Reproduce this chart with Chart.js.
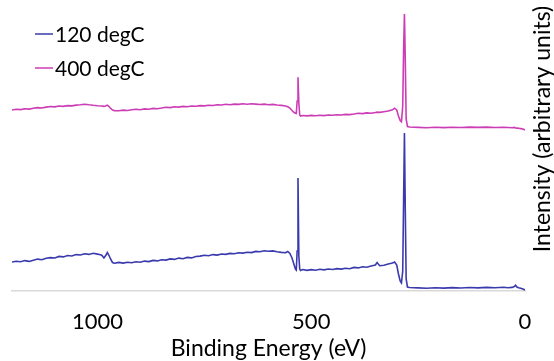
<!DOCTYPE html>
<html><head><meta charset="utf-8">
<script src="https://cdn.jsdelivr.net/npm/chart.js@4/dist/chart.umd.min.js"></script>
<style>html,body{margin:0;padding:0;background:#fff;}</style>
</head><body>
<canvas id="c" width="554" height="361"></canvas>
<script>
// Binding energy grid (eV)
const bindingEnergy = [1200,1190,1180,1170,1160,1150,1140,1130,1120,1110,1100,1090,1080,1070,1060,1050,1040,1030,1020,1010,1000,
990,985,980,977,973,970,965,960,
950,940,930,920,910,900,890,880,870,860,850,840,830,820,810,800,790,780,770,760,750,740,730,720,710,700,690,680,670,660,650,640,630,620,610,600,590,580,570,560,
555,550,545,540,537,535,533,531,529,527,525,520,
510,500,490,480,470,460,450,440,430,420,410,400,390,380,370,360,350,346,340,330,320,310,305,300,296,292,289,286,284,282,280,278,275,270,
250,230,210,190,170,150,130,110,90,70,50,40,30,25,22,19,15,10,5,0];

// Intensity (arbitrary units), 120 degC
const intensity120 = [29.0,29.8,29.2,30.4,29.6,30.8,31.9,31.2,32.8,33.4,33.0,34.6,34.1,35.5,35.0,36.4,36.0,37.3,36.6,37.8,36.9,
35.8,33.0,36.0,38.5,35.5,32.5,28.5,27.8,
28.6,27.9,28.8,28.2,29.3,28.7,29.9,29.4,30.6,30.1,31.3,30.9,32.1,31.6,32.9,32.3,33.6,33.1,34.5,34.9,35.8,35.2,36.4,35.9,37.0,36.6,37.6,37.2,38.3,37.9,38.8,38.4,39.6,39.2,40.3,39.7,40.1,39.2,38.6,38.2,
39.5,37.5,33.0,26.0,22.0,21.0,40.0,113.0,35.0,22.0,20.5,21.5,
20.6,21.4,20.8,21.7,21.1,22.0,21.5,22.4,21.9,22.8,22.3,23.6,23.1,24.3,23.8,25.0,26.0,28.5,25.3,25.8,26.9,28.0,29.0,26.0,17.0,10.0,8.0,20.0,90.0,158.0,80.0,12.0,4.0,3.5,
3.1,2.7,3.3,2.9,3.4,3.0,3.5,3.1,3.6,3.2,3.7,3.3,3.6,4.5,5.8,4.0,3.2,2.8,2.0,1.0];

// Intensity (arbitrary units), 400 degC
const intensity400 = [181.0,181.8,181.4,182.3,181.9,182.8,183.4,183.0,183.9,184.5,184.1,185.0,184.6,185.4,185.1,185.9,186.3,186.8,186.2,185.7,185.3,
185.0,184.6,185.2,185.8,184.5,183.0,181.0,180.4,
180.3,180.9,180.5,181.2,181.7,181.3,182.1,181.8,182.6,182.3,183.0,183.8,183.4,184.2,183.9,184.6,184.3,185.0,184.8,185.4,185.1,185.8,185.5,186.2,186.0,186.7,186.3,186.9,186.6,187.2,186.8,187.3,186.9,186.5,186.9,186.2,186.6,186.0,185.6,185.0,
184.3,183.0,180.5,178.5,177.8,177.5,190.0,213.7,188.0,176.0,175.0,175.5,
175.1,175.6,175.2,175.8,175.4,176.0,175.7,176.3,176.0,176.6,176.4,177.0,177.8,177.4,178.1,177.8,178.5,178.9,178.6,179.3,180.0,181.2,182.8,181.0,175.0,170.5,169.3,185.0,240.0,277.0,230.0,172.0,164.5,164.0,
163.6,163.3,163.7,163.4,163.8,163.5,163.9,163.6,163.9,163.5,163.8,163.5,163.2,163.6,163.0,162.9,162.7,162.4,162.0,161.0];

const seriesLabels = ['120 degC', '400 degC'];
const xTickValues = [1000, 500, 0];
const xTitle = 'Binding Energy (eV)';
const yTitle = 'Intensity (arbitrary units)';

const FONT = 'Lato';
const toPoints = vals => bindingEnergy.map((e, i) => ({x: e, y: vals[i]}));

const legendPlugin = {
  id: 'insideLegend',
  afterDraw(chart) {
    const ctx = chart.ctx;
    ctx.save();
    ctx.font = '21px ' + FONT;
    ctx.textBaseline = 'middle';
    ctx.fillStyle = '#000';
    const rows = [34, 68];
    chart.data.datasets.forEach((ds, i) => {
      ctx.strokeStyle = ds.borderColor;
      ctx.lineWidth = 1.5;
      ctx.beginPath();
      ctx.moveTo(35, rows[i]);
      ctx.lineTo(53, rows[i]);
      ctx.stroke();
      ctx.fillText(ds.label, 55, rows[i] + 1);
    });
    ctx.restore();
  }
};

const yTitlePlugin = {
  id: 'yTitle',
  afterDraw(chart) {
    const ctx = chart.ctx;
    ctx.save();
    ctx.font = '23px ' + FONT;
    ctx.fillStyle = '#000';
    ctx.textAlign = 'center';
    ctx.textBaseline = 'middle';
    ctx.translate(543, 129);
    ctx.rotate(-Math.PI / 2);
    ctx.fillText(yTitle, 0, 0);
    ctx.restore();
  }
};

new Chart(document.getElementById('c'), {
  type: 'line',
  data: {
    datasets: [
      {label: seriesLabels[0], data: toPoints(intensity120), borderColor: '#3A3AAE', borderWidth: 1.6, pointRadius: 0, tension: 0, fill: false},
      {label: seriesLabels[1], data: toPoints(intensity400), borderColor: '#CC3DB5', borderWidth: 1.6, pointRadius: 0, tension: 0, fill: false}
    ]
  },
  options: {
    responsive: false,
    animation: false,
    layout: {padding: {left: 12, top: 11, right: 0, bottom: 0}},
    plugins: {legend: {display: false}, tooltip: {enabled: false}},
    scales: {
      x: {
        type: 'linear', reverse: true, min: 0, max: 1200,
        afterBuildTicks: s => { s.ticks = xTickValues.map(v => ({value: v})); },
        grid: {display: false, drawTicks: false},
        border: {display: true, color: '#D9D9D9', width: 1.5},
        ticks: {font: {family: FONT, size: 22}, color: '#000', padding: 18, maxRotation: 0, autoSkip: false, callback: v => String(v)},
        title: {display: true, text: xTitle, font: {family: FONT, size: 23}, color: '#000', padding: {top: 0, bottom: -1}},
        afterFit: s => { s.height = 70; }
      },
      y: {
        position: 'right', min: 0, max: 280,
        ticks: {display: false},
        grid: {display: false, drawTicks: false},
        border: {display: false},
        afterFit: s => { s.width = 29; }
      }
    }
  },
  plugins: [legendPlugin, yTitlePlugin]
});
</script>
</body></html>
